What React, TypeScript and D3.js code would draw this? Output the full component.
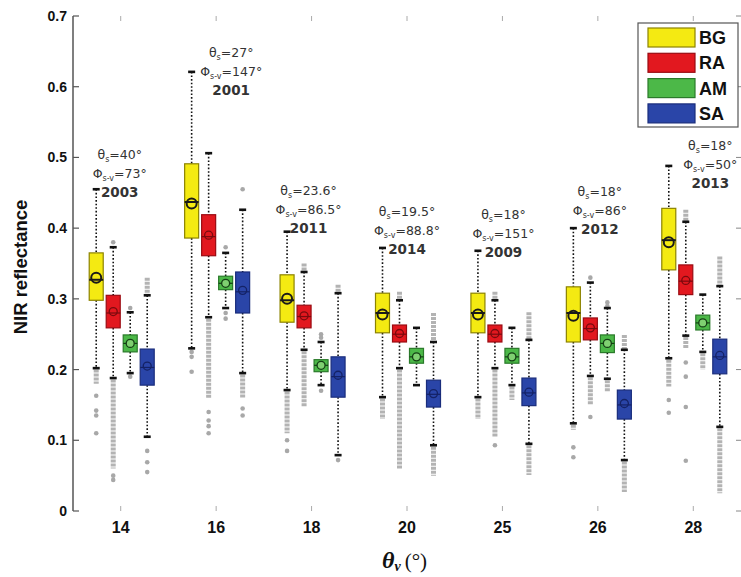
import React from "react";
import * as d3 from "d3";

const categories = ["14", "16", "18", "20", "25", "26", "28"];
const species = ["BG", "RA", "AM", "SA"];
const yTicks = [0, 0.1, 0.2, 0.3, 0.4, 0.5, 0.6, 0.7];

// per category: [BG, RA, AM, SA]
const whiskerHi = [
  [0.455, 0.373, 0.281, 0.305],
  [0.621, 0.506, 0.365, 0.426],
  [0.395, 0.338, 0.239, 0.308],
  [0.372, 0.298, 0.259, 0.239],
  [0.368, 0.298, 0.259, 0.242],
  [0.4, 0.323, 0.287, 0.228],
  [0.488, 0.409, 0.306, 0.318],
];
const q3 = [
  [0.365, 0.305, 0.249, 0.229],
  [0.491, 0.419, 0.332, 0.338],
  [0.334, 0.291, 0.214, 0.218],
  [0.308, 0.263, 0.23, 0.185],
  [0.308, 0.263, 0.23, 0.188],
  [0.317, 0.273, 0.249, 0.171],
  [0.428, 0.348, 0.277, 0.243],
];
const medians = [
  [0.327, 0.28, 0.237, 0.203],
  [0.437, 0.388, 0.322, 0.31],
  [0.298, 0.275, 0.206, 0.19],
  [0.28, 0.25, 0.218, 0.165],
  [0.28, 0.25, 0.218, 0.167],
  [0.28, 0.258, 0.237, 0.15],
  [0.383, 0.325, 0.266, 0.218],
];
const means = [
  [0.33, 0.282, 0.237, 0.205],
  [0.435, 0.39, 0.322, 0.312],
  [0.3, 0.276, 0.206, 0.192],
  [0.278, 0.251, 0.218, 0.166],
  [0.278, 0.251, 0.218, 0.168],
  [0.276, 0.259, 0.237, 0.152],
  [0.38, 0.326, 0.266, 0.22],
];
const q1 = [
  [0.298, 0.259, 0.225, 0.178],
  [0.386, 0.361, 0.313, 0.28],
  [0.267, 0.259, 0.197, 0.161],
  [0.252, 0.239, 0.209, 0.147],
  [0.252, 0.239, 0.209, 0.149],
  [0.239, 0.242, 0.224, 0.13],
  [0.341, 0.306, 0.256, 0.194],
];
const whiskerLo = [
  [0.202, 0.188, 0.195, 0.105],
  [0.23, 0.274, 0.287, 0.195],
  [0.171, 0.228, 0.178, 0.079],
  [0.161, 0.202, 0.178, 0.093],
  [0.161, 0.202, 0.178, 0.095],
  [0.124, 0.191, 0.187, 0.072],
  [0.216, 0.248, 0.225, 0.119],
];
// dense runs of outliers [from, to]
const outlierRuns = [
  [[[0.18, 0.2]], [[0.06, 0.186]], [], [[0.305, 0.33]]],
  [[], [[0.16, 0.272]], [], [[0.16, 0.193]]],
  [[[0.11, 0.169]], [[0.338, 0.35], [0.147, 0.226]], [], [[0.308, 0.32]]],
  [[[0.13, 0.159]], [[0.298, 0.31], [0.06, 0.2]], [], [[0.239, 0.28], [0.05, 0.091]]],
  [[[0.13, 0.159]], [[0.298, 0.31], [0.105, 0.2]], [[0.157, 0.176]], [[0.242, 0.281], [0.051, 0.093]]],
  [[[0.115, 0.122]], [[0.15, 0.189]], [[0.168, 0.185]], [[0.228, 0.249], [0.027, 0.07]]],
  [[[0.176, 0.214]], [[0.409, 0.426], [0.23, 0.246]], [[0.2, 0.223]], [[0.318, 0.36], [0.025, 0.117]]],
];
// isolated outliers
const outlierDots = [
  [[0.163, 0.142, 0.135, 0.11], [0.38, 0.05, 0.044], [0.287, 0.19], [0.085, 0.069, 0.055]],
  [[0.225, 0.218, 0.197], [0.14, 0.128, 0.12, 0.11], [0.373, 0.28, 0.272], [0.455, 0.145, 0.135]],
  [[0.1, 0.085], [], [0.245, 0.25, 0.17], [0.072]],
  [[], [], [], []],
  [[], [0.093], [], []],
  [[0.09, 0.076], [0.33, 0.133], [0.29, 0.295], []],
  [[0.157, 0.139], [0.21, 0.19, 0.147, 0.071], [], []],
];

const thetaS = ["40", "27", "23.6", "19.5", "18", "18", "18"];
const phiSV = ["73", "147", "86.5", "88.8", "151", "86", "50"];
const years = ["2003", "2001", "2011", "2014", "2009", "2012", "2013"];
const annotY = [0.451, 0.595, 0.4, 0.371, 0.366, 0.399, 0.464];
const annotDx = [-1, 15, -3, 0, 1, 2, 17];

const fills = ["#f4ea12", "#e2181f", "#4cb848", "#2a45a8"];
const strokes = ["#8c8300", "#9a0b12", "#2a7a2a", "#1a2d7c"];
const markStrokes = ["#1a1a1a", "#7a0a0e", "#143f14", "#142266"];

const W = 741;
const H = 577;
const axisX = 73;

export default function App() {
  const y = d3.scaleLinear().domain([0, 0.7]).range([511, 16]);
  const x = d3.scaleBand().domain(categories).range([axisX, W]).paddingInner(0);
  const xs = d3.scaleBand().domain(species).range([-33, 35]);
  const bw = 14;
  const fontSans = "'Liberation Sans', Arial, sans-serif";
  const fontAnn = "'DejaVu Sans', sans-serif";

  return (
    <div style={{ position: "absolute", left: 0, top: 0 }}>
      <svg width={W} height={H} style={{ display: "block", background: "#fff" }}>
        {/* y axis */}
        <line x1={axisX} x2={axisX} y1={y(0.7)} y2={y(0)} stroke="#555" strokeWidth={1.5} />
        {yTicks.map((t) => (
          <g key={t}>
            <line x1={axisX} x2={axisX + 6} y1={y(t)} y2={y(t)} stroke="#555" strokeWidth={1.2} />
            <line x1={W - 5} x2={W} y1={y(t)} y2={y(t)} stroke="#888" strokeWidth={1} />
            <text x={67} y={y(t) + 5} textAnchor="end" fontFamily={fontSans} fontWeight="bold" fontSize={14} fill="#111">
              {t === 0 ? "0" : t.toFixed(1)}
            </text>
          </g>
        ))}
        <text
          transform={`translate(27,${267}) rotate(-90)`}
          textAnchor="middle"
          fontFamily={fontSans}
          fontWeight="bold"
          fontSize={18.5}
          fill="#111"
        >
          NIR reflectance
        </text>

        {/* x ticks & labels */}
        {categories.map((c) => {
          const cx = x(c)! + x.bandwidth() / 2;
          return (
            <g key={c}>
              <line x1={cx} x2={cx} y1={y(0.7)} y2={y(0.7) + 5} stroke="#aaa" strokeWidth={1} />
              <line x1={cx} x2={cx} y1={y(0) - 5} y2={y(0)} stroke="#aaa" strokeWidth={1} />
              <text x={cx} y={533} textAnchor="middle" fontFamily={fontSans} fontWeight="bold" fontSize={16} fill="#111">
                {c}
              </text>
            </g>
          );
        })}
        <text x={382} y={568} fontFamily="'Liberation Serif', 'Times New Roman', serif" fill="#111">
          <tspan fontSize={24} fontWeight="bold" fontStyle="italic">θ</tspan>
          <tspan fontSize={14} fontWeight="bold" fontStyle="italic" dy={3}>v</tspan>
          <tspan fontSize={21} dy={-3} dx={4}>(°)</tspan>
        </text>

        {/* boxes */}
        {categories.map((c, ci) => {
          const cx = x(c)! + x.bandwidth() / 2;
          return (
            <g key={c}>
              {species.map((s, si) => {
                const bx = cx + xs(s)! + xs.bandwidth() / 2;
                const runs = outlierRuns[ci][si];
                const dots = outlierDots[ci][si];
                return (
                  <g key={s}>
                    {runs.map((r, ri) => (
                      <line
                        key={"r" + ri}
                        x1={bx}
                        x2={bx}
                        y1={y(r[1])}
                        y2={y(r[0])}
                        stroke="#b3b3b3"
                        strokeWidth={5}
                        strokeDasharray="3,1"
                      />
                    ))}
                    {dots.map((d, di) => (
                      <circle key={"d" + di} cx={bx} cy={y(d)} r={2.3} fill="#a8a8a8" />
                    ))}
                    <line x1={bx} x2={bx} y1={y(whiskerHi[ci][si])} y2={y(q3[ci][si])} stroke="#111" strokeWidth={1.6} strokeDasharray="1.6,2" />
                    <line x1={bx} x2={bx} y1={y(q1[ci][si])} y2={y(whiskerLo[ci][si])} stroke="#111" strokeWidth={1.6} strokeDasharray="1.6,2" />
                    <rect x={bx - 3.5} y={y(whiskerHi[ci][si]) - 1.3} width={7} height={2.6} fill="#111" />
                    <rect x={bx - 3.5} y={y(whiskerLo[ci][si]) - 1.3} width={7} height={2.6} fill="#111" />
                    <rect
                      x={bx - bw / 2}
                      y={y(q3[ci][si])}
                      width={bw}
                      height={y(q1[ci][si]) - y(q3[ci][si])}
                      fill={fills[si]}
                      stroke={strokes[si]}
                      strokeWidth={1.2}
                    />
                    <line
                      x1={bx - bw / 2}
                      x2={bx + bw / 2}
                      y1={y(medians[ci][si])}
                      y2={y(medians[ci][si])}
                      stroke={markStrokes[si]}
                      strokeWidth={si === 0 ? 2 : 1.2}
                    />
                    <circle
                      cx={bx}
                      cy={y(means[ci][si])}
                      r={si === 0 ? 5 : 4}
                      fill={si === 2 ? "#7fd071" : "none"}
                      stroke={markStrokes[si]}
                      strokeWidth={si === 0 ? 2 : 1.3}
                    />
                  </g>
                );
              })}
            </g>
          );
        })}

        {/* annotations */}
        {categories.map((c, ci) => {
          const ax = x(c)! + x.bandwidth() / 2 + annotDx[ci];
          const ay = y(annotY[ci]);
          return (
            <g key={"a" + c} fontFamily={fontAnn} fill="#333" textAnchor="middle">
              <text x={ax} y={ay - 33} fontSize={12.5}>
                θ<tspan fontSize={8} dy={3}>s</tspan>
                <tspan dy={-3}>={thetaS[ci]}°</tspan>
              </text>
              <text x={ax} y={ay - 14} fontSize={12.5}>
                Φ<tspan fontSize={8} dy={3}>s-v</tspan>
                <tspan dy={-3}>={phiSV[ci]}°</tspan>
              </text>
              <text x={ax} y={ay + 5} fontSize={13.5} fontWeight="bold">
                {years[ci]}
              </text>
            </g>
          );
        })}

        {/* legend */}
        <g>
          <rect x={638} y={23} width={100} height={104} fill="#fff" stroke="#555" strokeWidth={1.2} />
          {species.map((s, si) => (
            <g key={s}>
              <rect x={648} y={28 + si * 25.3} width={47} height={19} fill={fills[si]} stroke={strokes[si]} strokeWidth={1.2} />
              <text x={699} y={28 + si * 25.3 + 16} fontFamily={fontSans} fontWeight="bold" fontSize={18} fill="#111">
                {s}
              </text>
            </g>
          ))}
        </g>
      </svg>
    </div>
  );
}
